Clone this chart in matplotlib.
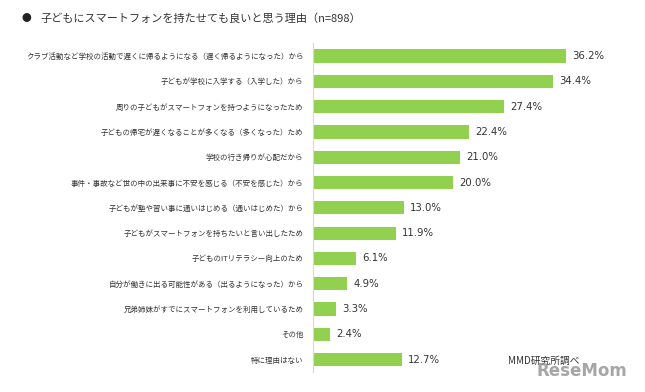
import matplotlib
matplotlib.use("Agg")
import matplotlib.pyplot as plt

plt.rcParams['font.family'] = ['Noto Sans CJK JP', 'DejaVu Sans']

# --- データ ---
reasons = [
    "クラブ活動など学校の活動で遅くに帰るようになる（遅く帰るようになった）から",
    "子どもが学校に入学する（入学した）から",
    "周りの子どもがスマートフォンを持つようになったため",
    "子どもの帰宅が遅くなることが多くなる（多くなった）ため",
    "学校の行き帰りが心配だから",
    "事件・事故など世の中の出来事に不安を感じる（不安を感じた）から",
    "子どもが塾や習い事に通いはじめる（通いはじめた）から",
    "子どもがスマートフォンを持ちたいと言い出したため",
    "子どものITリテラシー向上のため",
    "自分が働きに出る可能性がある（出るようになった）から",
    "兄弟姉妹がすでにスマートフォンを利用しているため",
    "その他",
    "特に理由はない",
]
percents = [36.2, 34.4, 27.4, 22.4, 21.0, 20.0, 13.0, 11.9, 6.1, 4.9, 3.3, 2.4, 12.7]
title = "子どもにスマートフォンを持たせても良いと思う理由（n=898）"
source = "MMD研究所調べ"

W, H = 645, 392
fig = plt.figure(figsize=(W / 100, H / 100), dpi=100)
fig.patch.set_facecolor("white")

# 軸の位置（ピクセル基準）
ax_left, ax_top, row_h = 313, 43.4, 25.3
ax_h = row_h * len(reasons)
ax = fig.add_axes([ax_left / W, 1 - (ax_top + ax_h) / H, (W - ax_left) / W, ax_h / H])

y = list(range(len(reasons)))
ax.barh(y, percents, height=0.52, color="#92D050", zorder=2)
ax.set_xlim(0, (W - ax_left) / 6.98)
ax.set_ylim(len(reasons) - 0.5, -0.5)

for yi, v in zip(y, percents):
    ax.text(v + 0.9, yi, f"{v:.1f}%", va="center", ha="left", fontsize=7.3, color="#333333",
            family=['DejaVu Sans'])

ax.set_yticks(y)
ax.set_yticklabels(reasons, fontsize=5.4, color="#333333")
ax.tick_params(axis="y", length=0, pad=7)
ax.set_xticks([])
for s in ["top", "right", "bottom"]:
    ax.spines[s].set_visible(False)
ax.spines["left"].set_color("#d9d9d9")
ax.spines["left"].set_linewidth(0.8)

# タイトル
fig.text(22 / W, 1 - 18 / H, "●", fontsize=7, va="center", ha="left", color="#222222")
fig.text(40 / W, 1 - 18 / H, title, fontsize=8, va="center", ha="left", color="#333333")

# 出典
fig.text(508 / W, 1 - 361 / H, source, fontsize=7, va="center", ha="left", color="#333333")
fig.text(536 / W, 1 - 371 / H, "ReseMom", fontsize=12, fontweight="bold", va="center",
         ha="left", color="#888888", alpha=0.75, family=['DejaVu Sans'])

fig.savefig("out.png", dpi=100)
